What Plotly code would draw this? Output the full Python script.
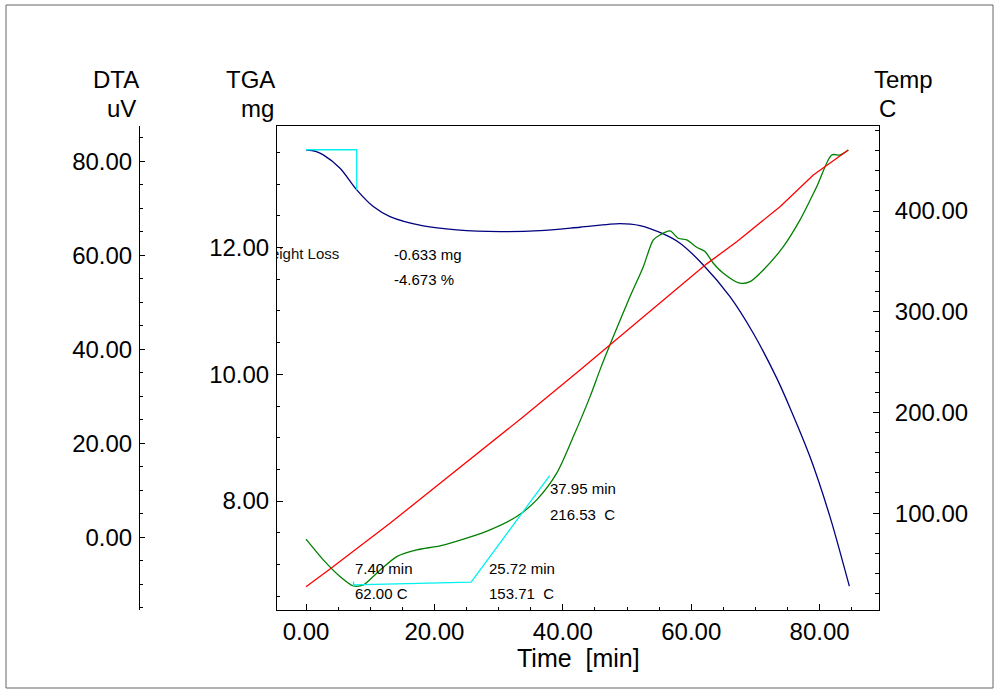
import plotly.graph_objects as go

# ---------------- data ----------------
tga_time = [0.0, 1.5, 2.69, 5.30, 7.90, 10.48, 13.08, 18.27, 23.47, 30.22, 36.45, 42.68,
            48.91, 52.02, 55.65, 58.26, 61.88, 66.04, 69.67, 73.32, 75.39, 78.50, 81.62, 84.63]
tga_mg = [13.545, 13.52, 13.464, 13.254, 12.912, 12.648, 12.490, 12.343, 12.280, 12.253, 12.269, 12.322,
          12.379, 12.348, 12.216, 12.070, 11.727, 11.226, 10.648, 9.940, 9.470, 8.698, 7.750, 6.656]

temp_time = [0.0, 3.74, 13.08, 23.47, 33.85, 42.68, 47.87, 53.07, 57.21, 62.41, 67.09, 73.83, 79.02, 84.47]
temp_c = [26.9, 44.5, 89.9, 142.8, 195.7, 242.1, 269.6, 297.2, 319.1, 347.5, 369.5, 404.3, 435.7, 460.5]

dta_time = [0.0, 2.69, 5.30, 7.37, 8.93, 11.01, 14.13, 17.24, 20.87, 25.03, 28.66, 32.82, 35.93,
            39.05, 41.64, 44.24, 45.79, 47.87, 50.47, 52.54, 54.10, 55.14, 56.70, 57.99, 59.30,
            60.86, 62.15, 63.44, 65.00, 67.60, 69.16, 71.23, 74.35, 76.95, 79.55, 81.89, 83.18, 84.47]
dta_uv = [-0.43, -4.83, -8.38, -10.36, -10.15, -7.66, -4.13, -2.70, -1.85, -0.21, 1.55, 4.38, 7.94,
          13.62, 21.40, 29.91, 35.60, 42.68, 51.19, 57.57, 63.26, 64.32, 65.17, 63.62, 63.26,
          61.70, 60.77, 58.30, 56.17, 54.04, 54.38, 56.87, 61.83, 67.51, 74.60, 81.34, 81.34, 82.40]

# weight-loss step (TGA)
step_time = [0.0, 7.90, 7.90]
step_mg = [13.545, 13.545, 12.912]
loss_mg = "-0.633 mg"
loss_pct = "-4.673 %"

# DTA onset construction
onset_time = [7.40, 7.40, 7.40, 25.72, 37.95]
onset_uv = [-9.45, -10.5, -10.15, -9.57, 13.1]
onset_labels = [("7.40 min", "62.00 C"), ("25.72 min", "153.71\u00a0 C"), ("37.95 min", "216.53\u00a0 C")]

x_ticks = [0, 20, 40, 60, 80]
tga_ticks = [8, 10, 12]
dta_ticks = [0, 20, 40, 60, 80]
temp_ticks = [100, 200, 300, 400]

# ---------------- figure ----------------
FONT = "Arial, Liberation Sans, sans-serif"
W, H = 1000, 693
ML, MR, MT, MB = 139, 121, 126, 83
PX0, PX1, PY0, PY1 = 139, 879, 610, 126


def px(xpix):
    return (xpix - PX0) / (PX1 - PX0)


def py(ypix):
    return (PY0 - ypix) / (PY0 - PY1)


fig = go.Figure()

fig.add_trace(go.Scatter(x=temp_time, y=temp_c, yaxis="y3", mode="lines",
                         line=dict(color="#ff0000", width=1.3), showlegend=False))
fig.add_trace(go.Scatter(x=dta_time, y=dta_uv, yaxis="y2", mode="lines",
                         line=dict(color="#008000", width=1.3, shape="spline", smoothing=0.8),
                         showlegend=False))
fig.add_trace(go.Scatter(x=onset_time, y=onset_uv, yaxis="y2", mode="lines",
                         line=dict(color="#00f0f0", width=1.3), showlegend=False))
fig.add_trace(go.Scatter(x=tga_time, y=tga_mg, yaxis="y", mode="lines",
                         line=dict(color="#000080", width=1.3, shape="spline", smoothing=0.8),
                         showlegend=False))
fig.add_trace(go.Scatter(x=step_time, y=step_mg, yaxis="y", mode="lines",
                         line=dict(color="#00f0f0", width=1.3), showlegend=False))
# "Weight Loss" label, clipped by the plot area as in the original
fig.add_trace(go.Scatter(x=[-7.63], y=[11.886], yaxis="y", mode="text", text=["Weight Loss"],
                         textposition="middle right", cliponaxis=True,
                         textfont=dict(family=FONT, size=15, color="#111111"), showlegend=False))

axis_common = dict(showgrid=False, zeroline=False, showline=True, linecolor="#000000", linewidth=1,
                   ticks="inside", tickcolor="#000000", tickformat=".2f",
                   tickfont=dict(family=FONT, size=24, color="#000000"), automargin=False)

fig.update_layout(
    width=W, height=H,
    margin=dict(l=ML, r=MR, t=MT, b=MB, pad=0),
    paper_bgcolor="white", plot_bgcolor="white",
    showlegend=False,
    xaxis=dict(domain=[px(277), 1], range=[-4.52, 89.25], tickvals=x_ticks, ticklen=6,
               minor=dict(dtick=5, ticks="inside", ticklen=3, tickcolor="#000000"),
               mirror=True, **axis_common),
    yaxis=dict(range=[6.28, 13.92], tickvals=tga_ticks, ticklen=6,
               minor=dict(dtick=0.5, ticks="inside", ticklen=3, tickcolor="#000000"),
               ticklabelstandoff=2, **axis_common),
    yaxis2=dict(range=[-15.5, 87.5], tickvals=dta_ticks, overlaying="y", anchor="free", position=0,
                side="left", ticklen=5,
                minor=dict(dtick=5, ticks="inside", ticklen=3, tickcolor="#000000"),
                ticklabelstandoff=2, **axis_common),
    yaxis3=dict(range=[3.8, 484.4], tickvals=temp_ticks, overlaying="y", anchor="x", side="right",
                ticklen=6,
                minor=dict(dtick=20, ticks="inside", ticklen=4, tickcolor="#000000"),
                ticklabelstandoff=10, **axis_common),
)

annots = []


def label(text, x, y, xanchor, size=24, xref="paper", yref="paper"):
    annots.append(dict(text=text, x=x, y=y, xref=xref, yref=yref, xanchor=xanchor, yanchor="middle",
                       showarrow=False, font=dict(family=FONT, size=size, color="#000000")))


label("DTA", px(141), py(79), "right")
label("uV", px(138), py(109), "right")
label("TGA", px(277), py(79), "right")
label("mg", px(276), py(109), "right")
label("Temp", px(872), py(79), "left")
label("C", px(877), py(109), "left")
label("Time\u00a0 [min]", px(578), py(658), "center", size=25)

small = dict(size=15, xref="x", yref="y")
label(loss_mg, 13.4, 11.886, "left", **small)
label(loss_pct, 13.4, 11.49, "left", **small)
onset_pos = [(7.28, 6.935, 6.54), (28.14, 6.935, 6.54), (37.64, 8.199, 7.794)]
for (t1, t2), (xx, y1, y2) in zip(onset_labels, onset_pos):
    label(t1, xx, y1, "left", **small)
    label(t2, xx, y2, "left", **small)

fig.update_layout(annotations=annots)

# outer frame of the whole picture
fig.add_shape(type="rect", xref="paper", yref="paper",
              x0=px(6), x1=px(993), y0=py(688), y1=py(5),
              line=dict(color="#666666", width=1), layer="below")

fig.write_html("out.html", config={"displayModeBar": False},
               post_script="document.body.style.margin='0px';")
